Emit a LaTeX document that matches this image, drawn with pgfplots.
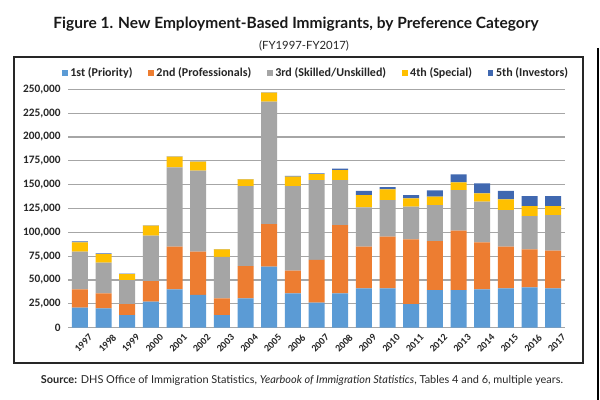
\documentclass[border=0pt]{standalone}
\usepackage{pgfplots}
\pgfplotsset{compat=1.18}
\usepackage{pgfplotstable}
\usepackage{fontspec}
\setmainfont{Lato}
\newfontfamily\calibri{Carlito}
\definecolor{cA}{HTML}{5B9BD5}
\definecolor{cB}{HTML}{ED7D31}
\definecolor{cC}{HTML}{A5A5A5}
\definecolor{cD}{HTML}{FFC000}
\definecolor{cE}{HTML}{4068B0}
\definecolor{gridc}{HTML}{A6A6A6}

\pgfplotstableread{
x  first  second third fourth fifth
0  21000  19200  39500  9800  1000
1  20300  15700  32200  9000  800
2  13300  11500  25200  6300  300
3  27300  21600  47600  10500 300
4  40200  44700  83200  11200 300
5  34300  45400  84900  9500  300
6  13300  17500  43600  7700  200
7  30800  33900  83800  7000  200
8  64000  44700  128300 9400  400
9  36000  23800  88700  9800  800
10 26200  44800  83800  6300  800
11 36000  71600  47200  10500 1400
12 41200  43700  41300  12900 4500
13 41200  54200  38500  11100 2300
14 24800  67800  34300  8700  3500
15 39500  51400  37700  8800  6500
16 39500  62200  42600  8100  8400
17 40200  49300  42600  8700  10500
18 41200  43700  38500  11200 9000
19 42300  39800  35000  10500 10500
20 41200  39500  37400  9500  10500
}\datatable

\begin{document}
\begin{tikzpicture}[x=0.75pt,y=0.75pt]
\path[use as bounding box] (0,0) rectangle (600,400);
\fill[white] (0,0) rectangle (600,400);
\draw[black!85, line width=0.9pt] (14,343) rectangle (583,37);
\draw[black, line width=2.2pt] (598,352) -- (598,0);
\node[font=\bfseries\fontsize{11.6}{14}\selectfont, text=black!90] at (296,376) {Figure 1. New Employment-Based Immigrants, by Preference Category};
\node[font=\fontsize{8.5}{10}\selectfont, text=black!85] at (304,354) {(FY1997-FY2017)};
\node[font=\fontsize{8.2}{10}\selectfont, text=black!85] at (302,20) {\textbf{Source:} DHS Office of Immigration Statistics, \textit{Yearbook of Immigration Statistics}, Tables 4 and 6, multiple years.};
\begin{axis}[
  at={(51pt,54.225pt)}, anchor=south west,
  scale only axis, width=372.75pt, height=178.8pt,
  ybar stacked, bar width=12pt,
  xmin=-0.5, xmax=20.5, ymin=0, ymax=250000,
  xtick={0,...,20},
  xticklabels={1997,1998,1999,2000,2001,2002,2003,2004,2005,2006,2007,2008,2009,2010,2011,2012,2013,2014,2015,2016,2017},
  xticklabel style={rotate=45, anchor=north east, font=\calibri\bfseries\fontsize{7.5}{8}\selectfont, text=black!85, inner sep=0.5pt, yshift=-7pt, xshift=2pt},
  ytick={0,25000,...,250000},
  scaled y ticks=false,
  yticklabel style={font=\calibri\bfseries\fontsize{8.5}{10}\selectfont, text=black!85, xshift=-2pt, /pgf/number format/fixed, /pgf/number format/1000 sep={,}},
  /pgf/number format/assume math mode=true,
  ymajorgrids, grid style={gridc, line width=0.8pt},
  axis line style={draw=none}, major tick style={draw=none},
  legend columns=5,
  legend style={at={(0.5,1.068)}, anchor=center, draw=none, fill=none, font=\calibri\bfseries\fontsize{9}{10}\selectfont, text=black!85, /tikz/every even column/.append style={column sep=10pt}},
  legend image code/.code={\fill[#1] (0pt,-2pt) rectangle (4pt,2pt);},
]
\addplot[fill=cA, draw=none] table[x=x, y=first] {\datatable};
\addplot[fill=cB, draw=none] table[x=x, y=second] {\datatable};
\addplot[fill=cC, draw=none] table[x=x, y=third] {\datatable};
\addplot[fill=cD, draw=none] table[x=x, y=fourth] {\datatable};
\addplot[fill=cE, draw=none] table[x=x, y=fifth] {\datatable};
\legend{1st (Priority),2nd (Professionals),3rd (Skilled/Unskilled),4th (Special),5th (Investors)}
\end{axis}
\end{tikzpicture}
\end{document}
